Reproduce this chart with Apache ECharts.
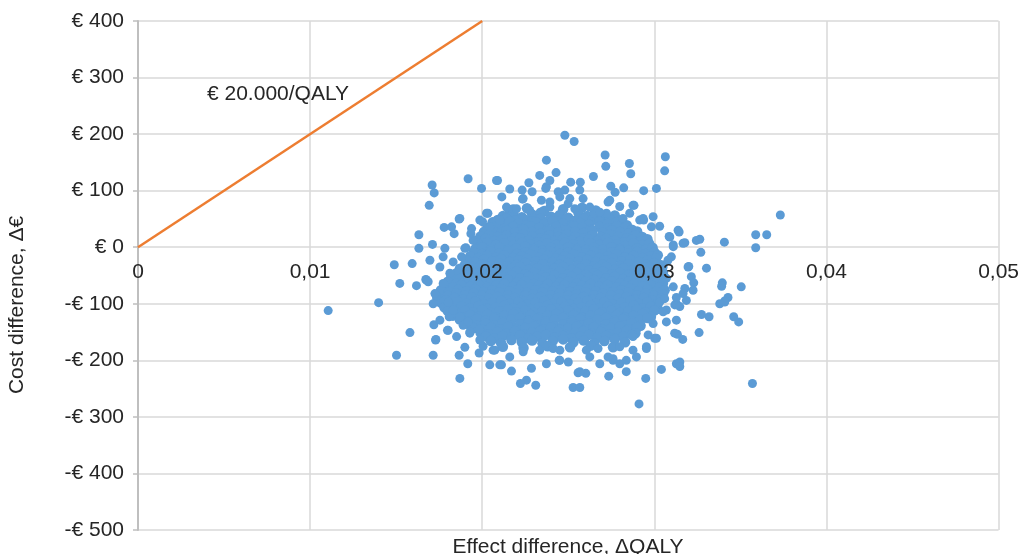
<!DOCTYPE html>
<html>
<head>
<meta charset="utf-8">
<script src="https://cdn.jsdelivr.net/npm/echarts@6/dist/echarts.min.js"></script>
<style>
html,body{margin:0;padding:0;background:#fff;}
#chart{width:1022px;height:554px;}
</style>
</head>
<body>
<div id="chart"></div>
<script>
// ---- axis ticks ----
const xTicks = [0, 0.01, 0.02, 0.03, 0.04, 0.05];
const yTicks = [-500, -400, -300, -200, -100, 0, 100, 200, 300, 400];

// ---- willingness-to-pay line (€ 20.000/QALY) ----
const wtpX = [0, 0.02];
const wtpY = [0, 400];

// ---- bootstrap cloud: [ΔQALY, Δ€] ----
const coreTop = [
[0.0216,66],[0.0226,69],[0.0236,64],[0.0247,67],[0.0258,70],[0.0266,65],
[0.0212,55],[0.0218,59],[0.0223,53],[0.0229,58],[0.0234,61],[0.0240,54],[0.0245,57],[0.0250,52],[0.0256,60],[0.0261,55],[0.0267,58],[0.0272,53],[0.0277,56],
[0.0209,48],[0.0214,51],[0.0219,47],[0.0224,50],[0.0229,46],[0.0234,51],[0.0239,48],[0.0244,45],[0.0249,50],[0.0254,47],[0.0259,51],[0.0264,48],[0.0269,45],[0.0274,50],[0.0280,47],
[0.0206,44],[0.0211,40],[0.0216,45],[0.0221,42],[0.0226,39],[0.0231,44],[0.0236,41],[0.0241,46],[0.0247,42],[0.0252,38],[0.0257,43],[0.0262,40],[0.0268,45],[0.0273,41],[0.0278,44],[0.0284,39],
[0.0203,34],[0.0208,37],[0.0213,33],[0.0218,36],[0.0223,32],[0.0228,37],[0.0233,34],[0.0238,31],[0.0243,36],[0.0248,33],[0.0253,37],[0.0258,34],[0.0263,31],[0.0268,36],[0.0273,33],[0.0278,37],[0.0283,34],[0.0287,31],
[0.0201,27],[0.0206,30],[0.0211,25],[0.0214,29],[0.0219,26],[0.0224,31],[0.0229,27],[0.0234,24],[0.0239,29],[0.0244,26],[0.0249,30],[0.0254,27],[0.0259,25],[0.0264,29],[0.0270,26],[0.0275,30],[0.0280,27],[0.0285,24],[0.0290,28],
[0.0199,19],[0.0204,22],[0.0209,18],[0.0214,21],[0.0219,17],[0.0224,22],[0.0229,19],[0.0234,16],[0.0239,21],[0.0244,18],[0.0249,22],[0.0254,19],[0.0259,16],[0.0264,21],[0.0269,18],[0.0274,22],[0.0279,19],[0.0284,16],[0.0289,21],[0.0293,18],
[0.0197,12],[0.0202,15],[0.0207,11],[0.0212,14],[0.0217,10],[0.0222,16],[0.0227,12],[0.0232,9],[0.0237,14],[0.0242,11],[0.0247,15],[0.0252,12],[0.0257,10],[0.0262,14],[0.0267,11],[0.0272,15],[0.0277,12],[0.0282,9],[0.0287,13],[0.0292,10],[0.0296,14],
[0.0198,5],[0.0203,8],[0.0208,4],[0.0213,7],[0.0218,3],[0.0223,8],[0.0228,5],[0.0233,2],[0.0238,7],[0.0243,4],[0.0248,8],[0.0253,5],[0.0258,2],[0.0263,7],[0.0268,4],[0.0273,8],[0.0278,5],[0.0283,2],[0.0288,7],[0.0293,4],[0.0297,6],
[0.0196,-3],[0.0200,0],[0.0205,-4],[0.0210,-1],[0.0215,-5],[0.0220,-2],[0.0225,1],[0.0230,-3],[0.0235,-6],[0.0240,-1],[0.0245,-4],[0.0250,0],[0.0255,-3],[0.0260,-5],[0.0265,-1],[0.0270,-4],[0.0275,0],[0.0280,-3],[0.0285,-6],[0.0290,-2],[0.0295,-4],[0.0299,-1],
[0.0195,-9],[0.0200,-12],[0.0205,-8],[0.0210,-11],[0.0215,-7],[0.0220,-12],[0.0225,-9],[0.0230,-6],[0.0235,-11],[0.0240,-8],[0.0245,-12],[0.0250,-9],[0.0255,-6],[0.0260,-11],[0.0265,-8],[0.0270,-12],[0.0275,-9],[0.0280,-6],[0.0285,-11],[0.0290,-8],[0.0295,-12],[0.0300,-9],
[0.0193,-16],[0.0198,-19],[0.0203,-15],[0.0208,-18],[0.0213,-14],[0.0218,-19],[0.0223,-16],[0.0228,-13],[0.0233,-18],[0.0238,-15],[0.0243,-20],[0.0248,-16],[0.0253,-13],[0.0258,-18],[0.0263,-15],[0.0268,-19],[0.0273,-16],[0.0278,-13],[0.0283,-18],[0.0288,-15],[0.0293,-19],[0.0298,-16],[0.0302,-14],
[0.0191,-23],[0.0196,-26],[0.0201,-22],[0.0206,-25],[0.0211,-21],[0.0216,-26],[0.0221,-23],[0.0226,-20],[0.0231,-25],[0.0236,-22],[0.0241,-26],[0.0246,-23],[0.0251,-20],[0.0256,-25],[0.0261,-22],[0.0266,-26],[0.0271,-23],[0.0276,-20],[0.0281,-25],[0.0286,-22],[0.0291,-26],[0.0296,-23],[0.0301,-20],
[0.0190,-31],[0.0195,-34],[0.0200,-30],[0.0205,-33],[0.0210,-29],[0.0215,-34],[0.0220,-31],[0.0225,-28],[0.0230,-33],[0.0235,-30],[0.0240,-35],[0.0245,-31],[0.0250,-28],[0.0255,-33],[0.0260,-30],[0.0265,-34],[0.0270,-31],[0.0275,-28],[0.0280,-33],[0.0285,-30],[0.0290,-34],[0.0295,-31],[0.0300,-28],[0.0304,-32],
[0.0187,-38],[0.0192,-41],[0.0197,-37],[0.0202,-40],[0.0207,-36],[0.0212,-41],[0.0217,-38],[0.0222,-35],[0.0227,-40],[0.0232,-37],[0.0237,-41],[0.0242,-38],[0.0247,-35],[0.0252,-40],[0.0257,-37],[0.0262,-41],[0.0267,-38],[0.0272,-35],[0.0277,-40],[0.0282,-37],[0.0287,-41],[0.0292,-38],[0.0297,-35],[0.0302,-40],
[0.0185,-46],[0.0190,-49],[0.0195,-45],[0.0200,-48],[0.0205,-44],[0.0210,-49],[0.0215,-46],[0.0220,-43],[0.0225,-48],[0.0230,-45],[0.0235,-50],[0.0240,-46],[0.0245,-43],[0.0250,-48],[0.0255,-45],[0.0260,-49],[0.0265,-46],[0.0270,-43],[0.0275,-48],[0.0280,-45],[0.0285,-49],[0.0290,-46],[0.0295,-43],[0.0300,-48],[0.0305,-45]
];
const coreBottom = [
[0.0182,-53],[0.0187,-56],[0.0192,-52],[0.0197,-55],[0.0202,-51],[0.0207,-56],[0.0212,-53],[0.0217,-50],[0.0222,-55],[0.0227,-52],[0.0232,-56],[0.0237,-53],[0.0242,-50],[0.0247,-55],[0.0252,-52],[0.0257,-56],[0.0262,-53],[0.0267,-50],[0.0272,-55],[0.0277,-52],[0.0282,-56],[0.0287,-53],[0.0292,-50],[0.0297,-55],[0.0302,-52],
[0.0180,-61],[0.0185,-64],[0.0190,-60],[0.0195,-63],[0.0200,-59],[0.0205,-64],[0.0210,-61],[0.0215,-58],[0.0220,-63],[0.0225,-60],[0.0230,-65],[0.0235,-61],[0.0240,-58],[0.0245,-63],[0.0250,-60],[0.0255,-64],[0.0260,-61],[0.0265,-58],[0.0270,-63],[0.0275,-60],[0.0280,-64],[0.0285,-61],[0.0290,-58],[0.0295,-63],[0.0300,-60],[0.0305,-64],
[0.0178,-68],[0.0183,-71],[0.0188,-67],[0.0193,-70],[0.0198,-66],[0.0203,-71],[0.0208,-68],[0.0213,-65],[0.0218,-70],[0.0223,-67],[0.0228,-71],[0.0233,-68],[0.0238,-65],[0.0243,-70],[0.0248,-67],[0.0253,-71],[0.0258,-68],[0.0263,-65],[0.0268,-70],[0.0273,-67],[0.0278,-71],[0.0283,-68],[0.0288,-65],[0.0293,-70],[0.0298,-67],[0.0303,-71],
[0.0176,-76],[0.0181,-79],[0.0186,-75],[0.0191,-78],[0.0196,-74],[0.0201,-79],[0.0206,-76],[0.0211,-73],[0.0216,-78],[0.0221,-75],[0.0226,-80],[0.0231,-76],[0.0236,-73],[0.0241,-78],[0.0246,-75],[0.0251,-79],[0.0256,-76],[0.0261,-73],[0.0266,-78],[0.0271,-75],[0.0276,-79],[0.0281,-76],[0.0286,-73],[0.0291,-78],[0.0296,-75],[0.0301,-79],[0.0306,-76],
[0.0175,-83],[0.0180,-86],[0.0185,-82],[0.0190,-85],[0.0195,-81],[0.0200,-86],[0.0205,-83],[0.0210,-80],[0.0215,-85],[0.0220,-82],[0.0225,-86],[0.0230,-83],[0.0235,-80],[0.0240,-85],[0.0245,-82],[0.0250,-86],[0.0255,-83],[0.0260,-80],[0.0265,-85],[0.0270,-82],[0.0275,-86],[0.0280,-83],[0.0285,-80],[0.0290,-85],[0.0295,-82],[0.0300,-86],[0.0305,-83],
[0.0174,-91],[0.0179,-94],[0.0184,-90],[0.0189,-93],[0.0194,-89],[0.0199,-94],[0.0204,-91],[0.0209,-88],[0.0214,-93],[0.0219,-90],[0.0224,-95],[0.0229,-91],[0.0234,-88],[0.0239,-93],[0.0244,-90],[0.0249,-94],[0.0254,-91],[0.0259,-88],[0.0264,-93],[0.0269,-90],[0.0274,-94],[0.0279,-91],[0.0284,-88],[0.0289,-93],[0.0294,-90],[0.0299,-94],[0.0304,-91],
[0.0176,-98],[0.0181,-101],[0.0186,-97],[0.0191,-100],[0.0196,-96],[0.0201,-101],[0.0206,-98],[0.0211,-95],[0.0216,-100],[0.0221,-97],[0.0226,-101],[0.0231,-98],[0.0236,-95],[0.0241,-100],[0.0246,-97],[0.0251,-101],[0.0256,-98],[0.0261,-95],[0.0266,-100],[0.0271,-97],[0.0276,-101],[0.0281,-98],[0.0286,-95],[0.0291,-100],[0.0296,-97],[0.0301,-101],
[0.0178,-106],[0.0183,-109],[0.0188,-105],[0.0193,-108],[0.0198,-104],[0.0203,-109],[0.0208,-106],[0.0213,-103],[0.0218,-108],[0.0223,-105],[0.0228,-110],[0.0233,-106],[0.0238,-103],[0.0243,-108],[0.0248,-105],[0.0253,-109],[0.0258,-106],[0.0263,-103],[0.0268,-108],[0.0273,-105],[0.0278,-109],[0.0283,-106],[0.0288,-103],[0.0293,-108],[0.0298,-105],[0.0302,-109],
[0.0180,-113],[0.0185,-116],[0.0190,-112],[0.0195,-115],[0.0200,-111],[0.0205,-116],[0.0210,-113],[0.0215,-110],[0.0220,-115],[0.0225,-112],[0.0230,-116],[0.0235,-113],[0.0240,-110],[0.0245,-115],[0.0250,-112],[0.0255,-116],[0.0260,-113],[0.0265,-110],[0.0270,-115],[0.0275,-112],[0.0280,-116],[0.0285,-113],[0.0290,-110],[0.0295,-115],[0.0300,-112],
[0.0183,-121],[0.0188,-124],[0.0193,-120],[0.0198,-123],[0.0203,-119],[0.0208,-124],[0.0213,-121],[0.0218,-118],[0.0223,-123],[0.0228,-120],[0.0233,-125],[0.0238,-121],[0.0243,-118],[0.0248,-123],[0.0253,-120],[0.0258,-124],[0.0263,-121],[0.0268,-118],[0.0273,-123],[0.0278,-120],[0.0283,-124],[0.0288,-121],[0.0293,-118],[0.0298,-123],
[0.0187,-128],[0.0192,-131],[0.0197,-127],[0.0202,-130],[0.0207,-126],[0.0212,-131],[0.0217,-128],[0.0222,-125],[0.0227,-130],[0.0232,-127],[0.0237,-131],[0.0242,-128],[0.0247,-125],[0.0252,-130],[0.0257,-127],[0.0262,-131],[0.0267,-128],[0.0272,-125],[0.0277,-130],[0.0282,-127],[0.0287,-131],[0.0292,-128],[0.0296,-125],
[0.0192,-136],[0.0197,-139],[0.0202,-135],[0.0207,-138],[0.0212,-134],[0.0217,-139],[0.0222,-136],[0.0227,-133],[0.0232,-138],[0.0237,-135],[0.0242,-140],[0.0247,-136],[0.0252,-133],[0.0257,-138],[0.0262,-135],[0.0267,-139],[0.0272,-136],[0.0277,-133],[0.0282,-138],[0.0287,-135],[0.0292,-139],
[0.0195,-143],[0.0200,-146],[0.0205,-142],[0.0210,-145],[0.0215,-141],[0.0220,-146],[0.0225,-143],[0.0230,-140],[0.0235,-145],[0.0240,-142],[0.0245,-146],[0.0250,-143],[0.0255,-140],[0.0260,-145],[0.0265,-142],[0.0270,-146],[0.0275,-143],[0.0280,-140],[0.0285,-145],[0.0290,-142],
[0.0199,-151],[0.0204,-154],[0.0209,-150],[0.0214,-153],[0.0219,-149],[0.0224,-154],[0.0229,-151],[0.0234,-148],[0.0239,-153],[0.0244,-150],[0.0249,-155],[0.0254,-151],[0.0259,-148],[0.0264,-153],[0.0269,-150],[0.0274,-154],[0.0279,-151],[0.0284,-148],[0.0289,-152],
[0.0202,-158],[0.0207,-161],[0.0212,-157],[0.0217,-160],[0.0222,-156],[0.0227,-161],[0.0232,-158],[0.0237,-155],[0.0242,-160],[0.0247,-157],[0.0252,-161],[0.0257,-158],[0.0262,-155],[0.0267,-160],[0.0272,-157],[0.0277,-161],[0.0282,-158],[0.0287,-155],
[0.0205,-166],[0.0211,-170],[0.0217,-164],[0.0223,-168],[0.0229,-165],[0.0235,-170],[0.0241,-166],[0.0247,-163],[0.0253,-168],[0.0259,-165],[0.0265,-170],[0.0271,-166],[0.0277,-163],[0.0283,-168],
[0.0212,-176],[0.0224,-178],[0.0238,-175],[0.0251,-177],[0.0263,-174],[0.0276,-177]
];
const fringeLeft = [
[0.01779,35],[0.01866,50],[0.01837,24],[0.01711,5],[0.01696,-23],[0.01905,-1],[0.01938,33],[0.02002,45],[0.02025,60],[0.01672,-57],
[0.01729,-164],[0.01719,-137],[0.01754,-129],[0.01798,-147],[0.01851,-158],[0.01899,-177],[0.01734,-87],[0.01808,-123],[0.01889,-138],[0.01928,-152],
[0.01982,-145],[0.01822,36],[0.01783,-2],[0.01899,-2],[0.01676,-58],[0.01754,-35],[0.01831,-26],[0.01725,-82],[0.01731,-163],[0.01802,-147],
[0.0187,-123],[0.01773,-64],[0.01686,-61],[0.01812,-46],[0.0188,-17],[0.01947,12],[0.01773,-17],[0.01831,-111],[0.01802,-97],[0.01715,-100],
[0.01918,-132],[0.01934,24]
];
const fringeTop = [
[0.02089,118],[0.0216,103],[0.02271,114],[0.02334,127],[0.02429,132],[0.02232,101],[0.0229,98],[0.02234,85],[0.02114,89],[0.02514,115],
[0.0257,115],[0.02646,125],[0.02747,108],[0.02772,97],[0.02822,105],[0.02938,100],[0.03012,104],[0.02882,74],[0.02799,72],[0.02993,54],
[0.02938,48],[0.02567,101],[0.0248,101],[0.02441,98],[0.02373,107],[0.02586,86],[0.02741,83],[0.02648,60],[0.02141,71],[0.0218,68],
[0.02276,65],[0.02344,83],[0.02393,71],[0.02499,77],[0.02538,68],[0.02722,60],[0.02818,51],[0.02393,118],[0.02369,104],[0.02238,86],
[0.02033,60],[0.01986,48],[0.0187,51],[0.02044,36],[0.02102,48],[0.02393,80],[0.02451,89],[0.02509,86],[0.02625,71],[0.02683,62],
[0.02731,80],[0.02857,60],[0.02915,48],[0.02876,74],[0.02935,51],[0.02983,36],[0.02199,68]
];
const fringeRight = [
[0.03031,37],[0.0309,18],[0.03138,30],[0.0311,1],[0.03099,-17],[0.03244,12],[0.03264,14],[0.0327,-9],[0.03303,-37],[0.032,-34],
[0.03215,-52],[0.03229,-63],[0.03395,-63],[0.03391,-69],[0.03428,-89],[0.03409,-95],[0.0338,-100],[0.03274,-119],[0.03318,-123],[0.0326,-151],
[0.03134,-154],[0.03165,-163],[0.03177,8],[0.03225,-76],[0.03177,-73],[0.03119,-102],[0.03186,-94],[0.03128,-129],[0.03118,-152],[0.03128,-100],
[0.03031,-97],[0.03079,-23],[0.0307,-111],[0.0307,-132],[0.03002,-161],[0.02954,-179],[0.03128,-89],[0.03148,-105],[0.03167,-82],[0.0311,-70],
[0.03196,-35],[0.03167,7],[0.03144,27],[0.03086,19],[0.0311,4],[0.03051,-35],[0.0307,-55],[0.0306,-91],[0.03051,-114],[0.02993,-135],
[0.02964,-155]
];
const fringeBottom = [
[0.02044,-208],[0.0217,-219],[0.02286,-214],[0.02373,-206],[0.02112,-208],[0.02451,-200],[0.025,-203],[0.02625,-194],[0.0276,-197],[0.02799,-206],
[0.02896,-194],[0.03128,-206],[0.02063,-182],[0.0216,-194],[0.02238,-185],[0.02334,-182],[0.02673,-179],[0.02876,-182],[0.02954,-176],[0.02005,-175],
[0.02073,-182],[0.01916,-206],[0.01982,-187],[0.02102,-208],[0.02257,-235],[0.02557,-222],[0.02602,-223],[0.02683,-206],[0.0276,-200],[0.02837,-200],
[0.02837,-220],[0.03012,-161],[0.02876,-158],[0.02799,-176],[0.02731,-194],[0.02605,-182],[0.02451,-182],[0.02412,-179],[0.01986,-164],[0.01928,-150],
[0.02447,-200],[0.02567,-220]
];
const outliers = [
[0.01105,-112],[0.01398,-98],[0.01502,-191],[0.0158,-151],[0.01521,-64],[0.01489,-31],[0.01593,-29],[0.01618,-68],[0.01632,22],[0.01632,-2],
[0.01709,110],[0.01721,96],[0.01692,74],[0.01918,121],[0.01996,104],[0.02083,118],[0.0248,198],[0.02534,187],[0.02373,154],[0.02714,163],
[0.02718,143],[0.02855,148],[0.02863,130],[0.03064,160],[0.0306,135],[0.03732,57],[0.03589,22],[0.03653,22],[0.03589,-1],[0.03407,9],
[0.03505,-70],[0.03461,-123],[0.0349,-132],[0.0357,-241],[0.02911,-277],[0.02528,-248],[0.02567,-248],[0.02222,-241],[0.02311,-244],[0.0187,-232],
[0.01715,-191],[0.01866,-191],[0.03148,-203],[0.03148,-211],[0.03041,-216],[0.0295,-232],[0.02735,-228],[0.03409,-97]
];

const coreCloud = [].concat(coreTop, coreBottom);
const outerCloud = [].concat(fringeLeft, fringeTop, fringeRight, fringeBottom, outliers);
const wtpLine = wtpX.map((x, i) => [x, wtpY[i]]);

const FONT = 'Liberation Sans, Arial, Helvetica, sans-serif';
const TXT = '#262626';
const GRID = '#d9d9d9';
const BLUE = '#5B9BD5';

// layout of the plot area
const GRID_TOP = 21, GRID_BOTTOM = 24, CHART_H = 554;
const plotH = CHART_H - GRID_TOP - GRID_BOTTOM;
const yMin = yTicks[0], yMax = yTicks[yTicks.length - 1];
// shift the x axis up so it crosses the y axis at € 0
const zeroOffset = -plotH * (0 - yMin) / (yMax - yMin);

function fmtX(v) { return v === 0 ? '0' : (+v.toFixed(2)).toString().replace('.', ','); }
function fmtY(v) { return v < 0 ? '-€ ' + Math.abs(v) : '€ ' + v; }

const chart = echarts.init(document.getElementById('chart'), null, { renderer: 'canvas' });
chart.setOption({
  animation: false,
  backgroundColor: '#ffffff',
  grid: { left: 138, right: 23, top: GRID_TOP, bottom: GRID_BOTTOM },
  xAxis: {
    type: 'value', min: xTicks[0], max: xTicks[xTicks.length - 1], interval: 0.01,
    position: 'bottom', offset: zeroOffset, z: 10,
    axisLine: { show: true, onZero: false, lineStyle: { color: GRID, opacity: 0 } },
    axisTick: { show: false },
    splitLine: { show: false },
    axisLabel: { formatter: fmtX, fontSize: 21, fontFamily: FONT, color: TXT, margin: 14 }
  },
  yAxis: {
    type: 'value', min: yMin, max: yMax, interval: 100,
    axisLine: { show: true, onZero: false, lineStyle: { color: '#bfbfbf', width: 2 } },
    axisTick: { show: true, length: 5, lineStyle: { color: '#bfbfbf', width: 1.5 } },
    splitLine: { show: true, lineStyle: { color: GRID, width: 1.5 } },
    axisLabel: { formatter: fmtY, fontSize: 21, fontFamily: FONT, color: TXT, margin: 14 }
  },
  graphic: [
    { type: 'text', x: 17, y: 305, rotation: Math.PI / 2, z: 20,
      style: { text: 'Cost difference, Δ€', font: '21px ' + FONT, fill: TXT, textAlign: 'center', textVerticalAlign: 'middle' } },
    { type: 'text', x: 568, y: 547, z: 20,
      style: { text: 'Effect difference, ΔQALY', font: '21px ' + FONT, fill: TXT, textAlign: 'center', textVerticalAlign: 'middle' } },
    { type: 'text', x: 207, y: 94, z: 20,
      style: { text: '€ 20.000/QALY', font: '21px ' + FONT, fill: TXT, textAlign: 'left', textVerticalAlign: 'middle' } }
  ],
  series: [
    {
      type: 'line', data: [], silent: true, z: 1,
      markLine: {
        silent: true, symbol: 'none', z: 1, animation: false,
        label: { show: false },
        lineStyle: { color: GRID, width: 1.5, type: 'solid' },
        data: xTicks.slice(1).map(v => ({ xAxis: v }))
      }
    },
    {
      type: 'scatter', data: coreCloud, symbolSize: 10.5,
      itemStyle: { color: BLUE, opacity: 1 }, z: 2, silent: true
    },
    {
      type: 'scatter', data: outerCloud, symbolSize: 9,
      itemStyle: { color: BLUE, opacity: 1 }, z: 2, silent: true
    },
    {
      type: 'line', data: wtpLine, showSymbol: false, symbol: 'none',
      lineStyle: { color: '#ED7D31', width: 2.5 }, z: 3, silent: true
    }
  ]
});
</script>
</body>
</html>
